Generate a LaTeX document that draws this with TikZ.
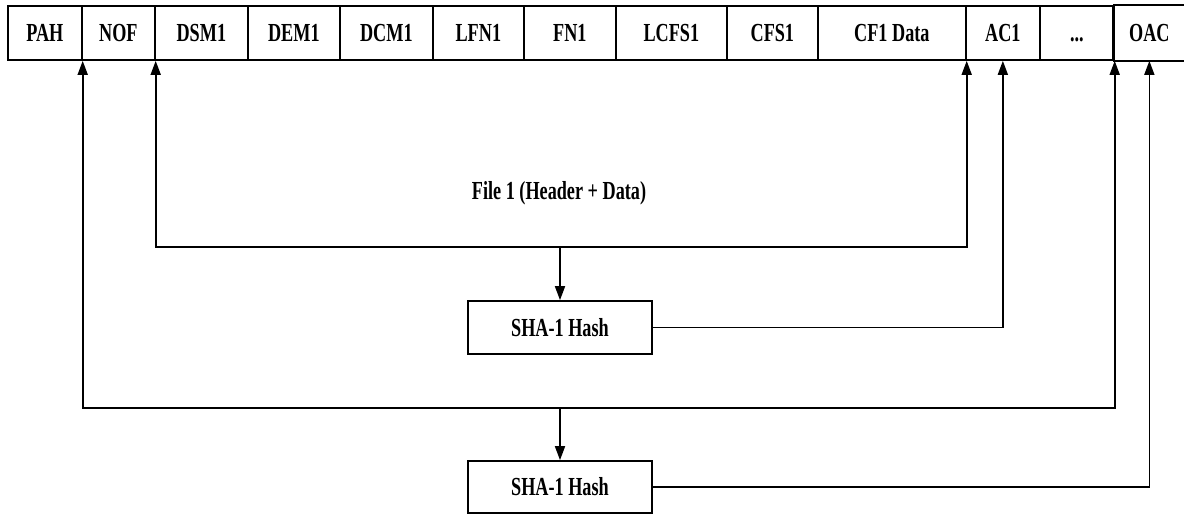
\documentclass[tikz,border=0pt]{standalone}
\usepackage{fontspec}
\setmainfont[FakeStretch=0.7]{Liberation Serif}
\usetikzlibrary{arrows.meta}
\begin{document}
\begin{tikzpicture}[x=1pt,y=-1pt,
  line width=1.7pt,
  lbl/.style={font=\fontsize{26}{30}\selectfont\bfseries},
  cell/.style={lbl,draw,anchor=west,minimum height=54pt,inner sep=0pt,text height=17pt,text depth=0pt},
  hashbox/.style={lbl,draw,minimum width=184pt,inner sep=0pt,text height=17pt,text depth=0pt},
  tip/.style={-{Triangle[length=14pt,width=10pt]}},
  twotip/.style={{Triangle[length=14pt,width=10pt]}-{Triangle[length=14pt,width=10pt]}}]
\useasboundingbox (0,0) rectangle (1184,515);
% top row of fields
\node[cell,minimum width=74pt]  (pah)  at (7,33)   {PAH};
\node[cell,minimum width=73pt]  (nof)  at (81,33)  {NOF};
\node[cell,minimum width=93pt]  (dsm)  at (154,33) {DSM1};
\node[cell,minimum width=92pt]  (dem)  at (247,33) {DEM1};
\node[cell,minimum width=93pt]  (dcm)  at (339,33) {DCM1};
\node[cell,minimum width=91pt]  (lfn)  at (432,33) {LFN1};
\node[cell,minimum width=92pt]  (fn)   at (523,33) {FN1};
\node[cell,minimum width=111pt] (lcfs) at (615,33) {LCFS1};
\node[cell,minimum width=91pt]  (cfs)  at (726,33) {CFS1};
\node[cell,minimum width=148pt] (cfd)  at (817,33) {CF1 Data};
\node[cell,minimum width=74pt]  (ac)   at (965,33) {AC1};
\node[cell,minimum width=74pt]  (dots) at (1039,33) {...};
\node[cell,draw=none,minimum width=71pt] (oac) at (1113,33) {OAC};
\draw (oac.north west) -- (oac.north east);
\draw (oac.south west) -- (oac.south east);
\draw (oac.north west) -- (oac.south west);
% file 1 label
\node[lbl] (file) at (559,193) {File 1 (Header + Data)};
% hash boxes
\node[hashbox,minimum height=53pt] (sha1) at (560,327.5) {SHA-1 Hash};
\node[hashbox,minimum height=52pt] (sha2) at (560,487) {SHA-1 Hash};
% bus coordinates
\coordinate (bus1) at (560,247);
\coordinate (bus2) at (560,408);
% upper loop: file 1 header + data
\draw[twotip] (nof.south east) |- (bus1) -| (cfd.south east);
\draw[tip] (bus1) -- (sha1.north);
\draw[tip] (sha1.east) -| (ac.south);
% lower loop: whole archive
\draw[twotip] (pah.south east) |- (bus2) -| (dots.south east);
\draw[tip] (bus2) -- (sha2.north);
\draw[tip] (sha2.east) -| (oac.south);
\end{tikzpicture}
\end{document}
